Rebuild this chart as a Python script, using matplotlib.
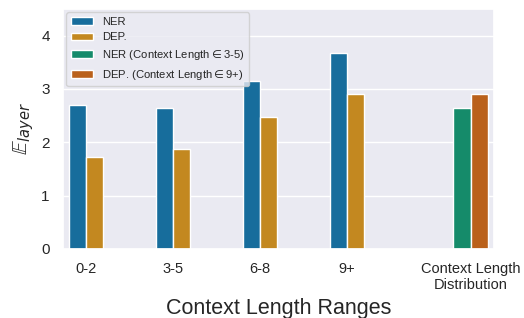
import numpy as np
import matplotlib
matplotlib.use("Agg")
import matplotlib.pyplot as plt
import seaborn as sns

sns.set_theme(style="darkgrid")
plt.rcParams['font.family'] = ['Arial', 'Liberation Sans', 'DejaVu Sans']

categories = ["0-2", "3-5", "6-8", "9+", "Context Length\nDistribution"]
ner = [2.70, 2.64, 3.15, 3.68]
dep = [1.73, 1.87, 2.47, 2.90]
ner_35 = 2.64
dep_9p = 2.90

pal = sns.color_palette("colorblind")
c_ner, c_dep, c_green, c_red = [sns.desaturate(pal[i], 0.75) for i in (0, 1, 2, 3)]

fig, ax = plt.subplots(figsize=(5.24, 3.18), dpi=100)

pos = np.array([0, 1, 2, 3, 4.42])
w = 0.2
ax.bar(pos[:4] - w / 2, ner, w, color=c_ner, edgecolor="white", linewidth=1, label="NER")
ax.bar(pos[:4] + w / 2, dep, w, color=c_dep, edgecolor="white", linewidth=1, label="DEP.")
ax.bar(pos[4] - w / 2, ner_35, w, color=c_green, edgecolor="white", linewidth=1,
       label="NER (Context Length$\\in$3-5)")
ax.bar(pos[4] + w / 2, dep_9p, w, color=c_red, edgecolor="white", linewidth=1,
       label="DEP. (Context Length$\\in$9+)")

ax.set_xticks(pos)
ax.set_xticklabels(categories, fontsize=10.5)
ax.tick_params(axis="y", labelsize=11)
ax.set_xlim(-0.265, 4.69)
ax.set_ylim(0, 4.5)
ax.set_yticks([0, 1, 2, 3, 4])
ax.grid(axis="x", visible=False)
ax.set_xlabel("Context Length Ranges", fontsize=15.5)
ax.set_ylabel("$\\mathbb{E}_{layer}$", fontsize=15)
ax.legend(loc="upper left", fontsize=8.1, borderaxespad=0.3)

fig.subplots_adjust(left=0.12, right=0.943, top=0.972, bottom=0.217)
fig.savefig("out.png", dpi=100)
